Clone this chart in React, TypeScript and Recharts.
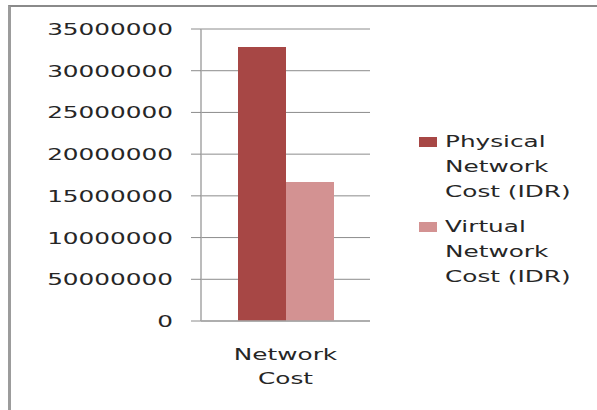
import { BarChart, Bar, XAxis, YAxis, CartesianGrid } from 'recharts';

// Data
const categories = ['Network Cost'];
const physicalCost = [32850000];
const virtualCost = [16650000];
const yTicks = [0, 5000000, 10000000, 15000000, 20000000, 25000000, 30000000, 35000000];
// tick labels as printed in the original (the 5M label reads 50000000)
const yTickLabels = ['0', '50000000', '10000000', '15000000', '20000000', '25000000', '30000000', '35000000'];

const series = [
  { key: 'physical', name: 'Physical Network Cost (IDR)', lines: ['Physical', 'Network', 'Cost (IDR)'], color: '#A74745' },
  { key: 'virtual', name: 'Virtual Network Cost (IDR)', lines: ['Virtual', 'Network', 'Cost (IDR)'], color: '#D39292' },
];

const chartData = categories.map((name, i) => ({
  name,
  physical: physicalCost[i],
  virtual: virtualCost[i],
}));

const FONT = '"DejaVu Sans", sans-serif';
const TEXT = '#262626';

const YTick = ({ x, y, payload }: any) => {
  const idx = yTicks.indexOf(payload.value);
  return (
    <g transform={`translate(${x},${y})`}>
      <text
        transform="scale(1.5,1)"
        textAnchor="end"
        dy={6}
        fontSize={16.5}
        fontFamily={FONT}
        fill={TEXT}
      >
        {idx >= 0 ? yTickLabels[idx] : payload.value}
      </text>
    </g>
  );
};

const XTick = ({ x, y, payload }: any) => {
  const words = String(payload.value).split(' ');
  return (
    <g transform={`translate(${x},${y})`}>
      {words.map((w, i) => (
        <text
          key={w}
          transform="scale(1.5,1)"
          textAnchor="middle"
          y={i * 24}
          fontSize={16.5}
          fontFamily={FONT}
          fill={TEXT}
        >
          {w}
        </text>
      ))}
    </g>
  );
};

const LegendBox = () => (
  <svg
    width={180}
    height={180}
    style={{ position: 'absolute', left: 419, top: 130 }}
  >
    {series.map((s, i) => (
      <g key={s.key} transform={`translate(0,${i * 85})`}>
        <rect x={0} y={7} width={18} height={10} fill={s.color} />
        {s.lines.map((line, j) => (
          <text
            key={j}
            transform={`translate(26,${17 + j * 25}) scale(1.5,1)`}
            fontSize={16.5}
            fontFamily={FONT}
            fill={TEXT}
          >
            {line}
          </text>
        ))}
      </g>
    ))}
  </svg>
);

const App = () => {
  return (
    <div style={{ position: 'absolute', left: 0, top: 0, width: 597, height: 410, background: '#fff', overflow: 'hidden' }}>
      <div
        style={{
          position: 'absolute',
          left: 8,
          top: 5,
          width: 600,
          height: 420,
          borderTop: '2px solid #8a8a8a',
          borderLeft: '3px solid #9c9c9c',
        }}
      />
      <BarChart
        width={597}
        height={410}
        data={chartData}
        margin={{ top: 29, right: 227, bottom: 0, left: 0 }}
        barCategoryGap={37}
        barGap={0}
        style={{ position: 'absolute', left: 0, top: 0 }}
      >
        <CartesianGrid vertical={false} stroke="#8c8c8c" strokeWidth={1} />
        <XAxis
          dataKey="name"
          height={89}
          axisLine={{ stroke: '#a6a6a6', strokeWidth: 1.5 }}
          tickLine={false}
          tickMargin={33}
          tick={<XTick />}
          interval={0}
        />
        <YAxis
          width={201}
          domain={[0, 35000000]}
          ticks={yTicks}
          interval={0}
          axisLine={{ stroke: '#a6a6a6', strokeWidth: 1.5 }}
          tickLine={{ stroke: '#8c8c8c' }}
          tickSize={10}
          tickMargin={18}
          tick={<YTick />}
        />
        {series.map((s) => (
          <Bar key={s.key} dataKey={s.key} name={s.name} fill={s.color} isAnimationActive={false} />
        ))}
      </BarChart>
      <LegendBox />
    </div>
  );
};

export default App;
